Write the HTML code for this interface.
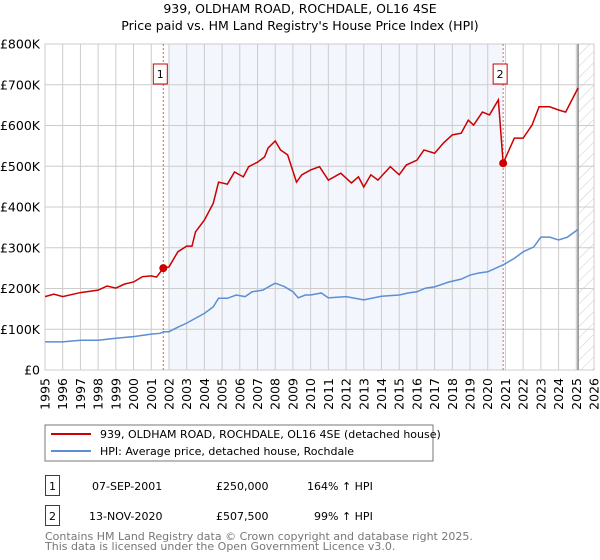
<!DOCTYPE html>
<html><head><meta charset="utf-8">
<style>
body{margin:0;background:#fff;font-family:"Liberation Sans","DejaVu Sans",sans-serif;}
#wrap{position:relative;width:600px;height:560px;overflow:hidden;}
svg text{font-family:"DejaVu Sans","Liberation Sans",sans-serif;}
</style></head><body>
<div id="wrap">
<svg id="chart" width="600" height="560">
<defs>
<pattern id="hatch" width="8" height="8" patternUnits="userSpaceOnUse" patternTransform="rotate(45)">
<line x1="0" y1="0" x2="0" y2="8" stroke="#ccc" stroke-width="1"/>
</pattern>
</defs>
<text x="300" y="13" text-anchor="middle" font-size="12.5" fill="#000">939, OLDHAM ROAD, ROCHDALE, OL16 4SE</text>
<text x="300" y="30" text-anchor="middle" font-size="12.5" fill="#000">Price paid vs. HM Land Registry's House Price Index (HPI)</text>
<g id="plot"></g>
<rect x="45" y="425" width="388" height="36" fill="#fff" stroke="#777"/>
<line x1="51" y1="434" x2="91" y2="434" stroke="#cc0000" stroke-width="2"/>
<text x="100" y="438" font-size="11">939, OLDHAM ROAD, ROCHDALE, OL16 4SE (detached house)</text>
<line x1="51" y1="451" x2="91" y2="451" stroke="#5b8fd4" stroke-width="2"/>
<text x="100" y="455" font-size="11">HPI: Average price, detached house, Rochdale</text>
<g>
<rect x="45.5" y="475.5" width="14" height="20" fill="#fff" stroke="#cc0000"/>
<text x="52.5" y="490" text-anchor="middle" font-size="11">1</text>
<text x="92" y="490" font-size="11">07-SEP-2001</text>
<text x="216" y="490" font-size="11">£250,000</text>
<text x="307" y="490" font-size="11">164% ↑ HPI</text>
</g>
<g>
<rect x="45.5" y="505.5" width="14" height="20" fill="#fff" stroke="#cc0000"/>
<text x="52.5" y="520" text-anchor="middle" font-size="11">2</text>
<text x="89" y="520" font-size="11">13-NOV-2020</text>
<text x="216" y="520" font-size="11">£507,500</text>
<text x="314" y="520" font-size="11">99% ↑ HPI</text>
</g>
<text x="45" y="540" font-size="11" fill="#777">Contains HM Land Registry data © Crown copyright and database right 2025.</text>
<text x="45" y="550" font-size="11" fill="#777">This data is licensed under the Open Government Licence v3.0.</text>
</svg>
</div>
<script>
const yTicks=[0,100000,200000,300000,400000,500000,600000,700000,800000];
const yTickLabels=["£0","£100K","£200K","£300K","£400K","£500K","£600K","£700K","£800K"];
const xYears=[1995,1996,1997,1998,1999,2000,2001,2002,2003,2004,2005,2006,2007,2008,2009,2010,2011,2012,2013,2014,2015,2016,2017,2018,2019,2020,2021,2022,2023,2024,2025,2026];
const hpiYears=[1995,1996,1997,1998,1999,2000,2001,2001.5,2001.7,2002,2002.5,2003,2003.5,2004,2004.5,2004.8,2005.3,2005.8,2006.3,2006.7,2007.3,2007.7,2008,2008.5,2009,2009.3,2009.7,2010,2010.6,2011,2012,2013,2014,2015,2015.5,2016,2016.5,2017,2017.8,2018.5,2019,2019.5,2020,2020.87,2021.5,2022,2022.6,2023,2023.5,2024,2024.5,2025.1];
const hpiVals=[69,69,73,73,78,82,88,90,94,94,105,115,127,139,155,176,176,184,180,192,196,206,213,205,192,177,184,184,189,177,180,172,181,184,189,192,201,204,216,223,233,238,241,258,274,290,302,326,326,319,326,345];
const redYears=[1995,1995.5,1996,1997,1998,1998.5,1999,1999.5,2000,2000.5,2001,2001.3,2001.68,2002,2002.5,2003,2003.3,2003.5,2004,2004.5,2004.8,2005.3,2005.7,2006.2,2006.5,2007,2007.4,2007.6,2008,2008.3,2008.7,2009.2,2009.5,2010,2010.5,2011,2011.7,2012.3,2012.7,2013,2013.4,2013.8,2014.5,2015,2015.4,2016,2016.4,2017,2017.5,2018,2018.5,2018.9,2019.2,2019.7,2020.1,2020.6,2020.87,2021.5,2022,2022.5,2022.9,2023.5,2024,2024.4,2024.6,2025.1];
const redVals=[180,186,180,190,196,206,201,211,216,229,231,228,250,253,290,304,304,339,368,409,461,456,486,474,499,510,523,545,562,540,528,461,479,491,499,466,483,459,474,449,479,466,499,479,503,515,540,532,557,577,581,613,601,633,626,663,507.5,569,569,601,646,646,638,633,650,692];
const saleYears=[2001.68,2020.87];
const saleVals=[250,507.5];
const saleLabels=["1","2"];

const L=45,R=594,T=44,B=370;
const xs=y=>L+(y-1995)*(R-L)/31;
const ys=v=>B-v*(B-T)/800000;
const NS="http://www.w3.org/2000/svg";
const g=document.getElementById('plot');
function mk(tag,attrs){const e=document.createElementNS(NS,tag);for(const k in attrs)e.setAttribute(k,attrs[k]);g.appendChild(e);return e;}
let e;
e=mk('rect',{x:L,y:T,width:R-L,height:B-T,fill:'#fff',stroke:'#ccc'});


e=mk('rect',{x:xs(2002),y:T,width:xs(saleYears[1])-xs(2002),height:B-T,fill:'#f3f6fd'});


e=mk('rect',{x:xs(2025.1),y:T,width:R-xs(2025.1),height:B-T,fill:'url(#hatch)'});


xYears.forEach(yr=>{
 e=mk('line',{x1:xs(yr),x2:xs(yr),y1:T,y2:B,stroke:'#ccc','stroke-width':1});
 
 
 e=mk('text',{x:0,y:0,'font-size':12.5,'text-anchor':'end',transform:`translate(${xs(yr)+4.5},378) rotate(-90)`});
 e.textContent=yr;
 
 
});
yTicks.forEach((v,i)=>{
 e=mk('line',{x1:L,x2:R,y1:ys(v),y2:ys(v),stroke:'#ccc','stroke-width':1});
 
 
 e=mk('text',{x:40,y:ys(v)+4.5,'font-size':12.5,'text-anchor':'end'});
 e.textContent=yTickLabels[i];
 
 
});
e=mk('line',{x1:xs(2025.1),x2:xs(2025.1),y1:T,y2:B,stroke:'#888','stroke-width':1.5});


saleYears.forEach((yr,i)=>{
 e=mk('line',{x1:xs(yr),x2:xs(yr),y1:T,y2:B,stroke:'#e06060','stroke-width':1,'stroke-dasharray':'2,2'});
 
 
});
e=mk('polyline',{points:hpiYears.map((y,i)=>xs(y)+','+ys(hpiVals[i]*1000)).join(' '),fill:'none',stroke:'#5b8fd4','stroke-width':1.5});


e=mk('polyline',{points:redYears.map((y,i)=>xs(y)+','+ys(redVals[i]*1000)).join(' '),fill:'none',stroke:'#cc0000','stroke-width':1.5});


saleYears.forEach((yr,i)=>{
 e=mk('circle',{cx:xs(yr),cy:ys(saleVals[i]*1000),r:4,fill:'#cc0000'});
 
 
 e=mk('rect',{x:xs(yr)-10,y:64,width:14,height:20,fill:'#fff',stroke:'#cc0000'});
 
 
 e=mk('text',{x:xs(yr)-3,y:78,'font-size':11,'text-anchor':'middle'});
 e.textContent=saleLabels[i];
 
 
});
</script>
</body></html>
